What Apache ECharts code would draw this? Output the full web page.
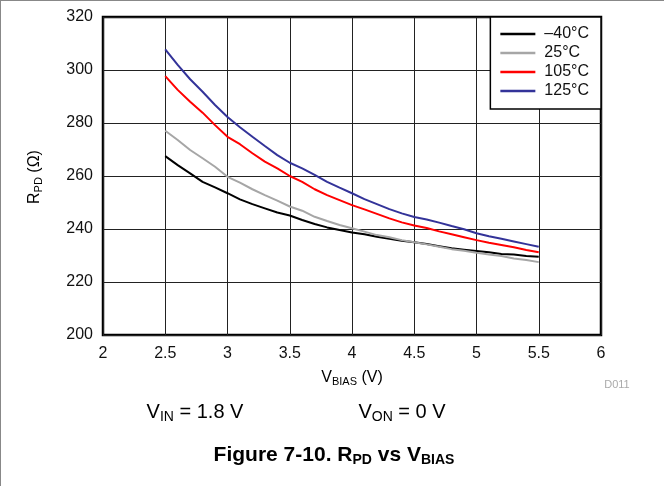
<!DOCTYPE html>
<html>
<head>
<meta charset="utf-8">
<script src="https://cdn.jsdelivr.net/npm/echarts@6/dist/echarts.min.js"></script>
<style>
  html, body { margin: 0; padding: 0; background: #fff; }
  #chart { width: 664px; height: 486px; }
</style>
</head>
<body>
<div id="chart"></div>
<script>
// V_BIAS sweep (V)
const vbias = [2.5, 2.6, 2.7, 2.8, 2.9, 3.0, 3.1, 3.2, 3.3, 3.4, 3.5, 3.6, 3.7, 3.8, 3.9, 4.0,
  4.1, 4.2, 4.3, 4.4, 4.5, 4.6, 4.7, 4.8, 4.9, 5.0, 5.1, 5.2, 5.3, 5.4, 5.5];

// R_PD (ohm) per temperature
const rpdM40 = [267.5, 264.1, 261.0, 257.8, 255.7, 253.5, 251.2, 249.4, 247.8, 246.2, 245.1, 243.4,
  241.9, 240.6, 239.6, 238.7, 238.0, 237.1, 236.3, 235.6, 235.0, 234.3, 233.5, 232.7, 232.2, 231.7,
  231.2, 230.6, 230.4, 229.8, 229.5];
const rpd25 = [277.1, 273.6, 269.8, 266.7, 263.5, 259.7, 257.5, 255.0, 252.8, 250.7, 248.5, 246.9,
  244.6, 243.0, 241.5, 240.3, 239.0, 237.7, 236.9, 235.8, 235.0, 234.2, 233.3, 232.4, 231.8, 231.0,
  230.4, 229.8, 228.9, 228.3, 227.5];
const rpd105 = [297.7, 292.5, 288.0, 283.9, 279.2, 274.8, 272.0, 268.6, 265.4, 262.9, 260.0, 257.8,
  255.0, 252.8, 250.9, 249.0, 247.4, 245.7, 244.0, 242.5, 241.3, 240.4, 239.1, 238.0, 236.9, 235.8,
  234.8, 234.0, 233.1, 232.1, 231.2];
const rpd125 = [307.8, 301.9, 296.5, 291.8, 286.8, 282.3, 278.4, 274.8, 271.3, 267.9, 265.0, 262.9,
  260.4, 257.8, 255.6, 253.5, 251.3, 249.4, 247.5, 245.9, 244.5, 243.6, 242.4, 241.1, 239.9, 238.4,
  237.3, 236.3, 235.3, 234.3, 233.3];

const seriesNames = ['–40°C', '25°C', '105°C', '125°C'];
const seriesColors = ['#000000', '#a6a6a6', '#ff0000', '#333399'];
const seriesData = [rpdM40, rpd25, rpd105, rpd125];

const font = 'Liberation Sans, Arial, sans-serif';
const subRich = {
  n: { fontSize: 16, fontFamily: font, color: '#111' },
  s: { fontSize: 11, fontFamily: font, color: '#111', padding: [8, 0, 0, 0] },
  nb: { fontSize: 20, fontFamily: font, color: '#111' },
  sb: { fontSize: 14, fontFamily: font, color: '#111', padding: [10, 0, 0, 0] },
  tb: { fontSize: 21, fontFamily: font, fontWeight: 'bold', color: '#111' },
  tsb: { fontSize: 14, fontFamily: font, fontWeight: 'bold', color: '#111', padding: [11, 0, 0, 0] }
};

const chart = echarts.init(document.getElementById('chart'));

const option = {
  animation: false,
  backgroundColor: '#fff',
  grid: {
    left: 103,
    right: 63,
    top: 17,
    bottom: 151,
    show: true,
    borderColor: '#000',
    borderWidth: 2.5
  },
  legend: {
    data: seriesNames,
    orient: 'vertical',
    right: 63,
    top: 17,
    icon: 'rect',
    itemWidth: 35,
    itemHeight: 2.5,
    itemGap: 3,
    padding: [9, 12, 10, 10],
    backgroundColor: '#fff',
    borderColor: '#000',
    borderWidth: 1.5,
    borderRadius: 0,
    textStyle: { fontSize: 16, fontFamily: font, color: '#111', lineHeight: 16, padding: [0, 0, 0, 4] }
  },
  xAxis: {
    type: 'value',
    min: 2,
    max: 6,
    interval: 0.5,
    axisLine: { show: false },
    axisTick: { show: false },
    axisLabel: { fontSize: 16, fontFamily: font, color: '#111', margin: 11 },
    splitLine: { show: true, lineStyle: { color: '#222', width: 1 } }
  },
  yAxis: {
    type: 'value',
    min: 200,
    max: 320,
    interval: 20,
    axisLine: { show: false },
    axisTick: { show: false },
    axisLabel: { fontSize: 16, fontFamily: font, color: '#111', margin: 10 },
    splitLine: { show: true, lineStyle: { color: '#222', width: 1 } }
  },
  series: seriesNames.map((name, i) => ({
    name: name,
    type: 'line',
    showSymbol: false,
    smooth: false,
    data: vbias.map((v, j) => [v, seriesData[i][j]]),
    lineStyle: { color: seriesColors[i], width: 2 },
    itemStyle: { color: seriesColors[i] },
    z: 3 + i
  })),
  graphic: [
    // outer frame (top and left edges only)
    { type: 'line', shape: { x1: 0, y1: 0.5, x2: 664, y2: 0.5 }, style: { stroke: '#888', lineWidth: 1 } },
    { type: 'line', shape: { x1: 0.5, y1: 0, x2: 0.5, y2: 486 }, style: { stroke: '#888', lineWidth: 1 } },
    {
      type: 'text', x: 35, y: 177, rotation: Math.PI / 2,
      style: { text: '{n|R}{s|PD}{n| (Ω)}', rich: subRich, align: 'center', verticalAlign: 'middle' }
    },
    {
      type: 'text', x: 352, y: 378,
      style: { text: '{n|V}{s|BIAS}{n| (V)}', rich: subRich, align: 'center', verticalAlign: 'middle' }
    },
    {
      type: 'text', x: 617, y: 385,
      style: { text: 'D011', fontSize: 11, fontFamily: font, fill: '#aaa', align: 'center', verticalAlign: 'middle' }
    },
    {
      type: 'text', x: 195, y: 412,
      style: { text: '{nb|V}{sb|IN}{nb| = 1.8 V}', rich: subRich, align: 'center', verticalAlign: 'middle' }
    },
    {
      type: 'text', x: 402, y: 412,
      style: { text: '{nb|V}{sb|ON}{nb| = 0 V}', rich: subRich, align: 'center', verticalAlign: 'middle' }
    },
    {
      type: 'text', x: 334, y: 455,
      style: { text: '{tb|Figure 7-10. R}{tsb|PD}{tb| vs V}{tsb|BIAS}', rich: subRich, align: 'center', verticalAlign: 'middle' }
    }
  ]
};

chart.setOption(option);
</script>
</body>
</html>
